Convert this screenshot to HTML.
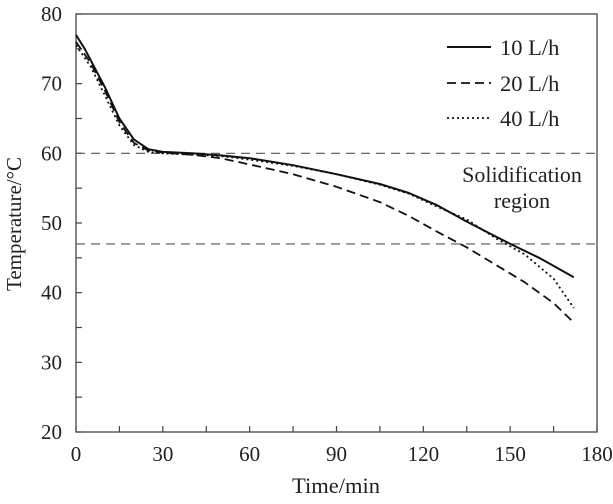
<!DOCTYPE html>
<html><head><meta charset="utf-8"><style>
html,body{margin:0;padding:0;background:#fff;}
svg text{font-family:"Liberation Serif",serif;fill:#222;}
</style></head><body>
<svg id="chart" width="613" height="499" viewBox="0 0 613 499" xmlns="http://www.w3.org/2000/svg">
<g id="layer"></g>
</svg>
<script>
const xTicks=[0,30,60,90,120,150,180];
const yTicks=[20,30,40,50,60,70,80];
const series1Time=[0,3,10,15,20,25,30,40,50,60,75,90,105,115,125,135,143,150,160,172];
const series1Temp=[77,75,69.5,65,62,60.6,60.2,60,59.7,59.3,58.3,57,55.6,54.3,52.5,50.2,48.5,47,45,42.2];
const series2Time=[0,5,10,15,20,25,30,40,50,60,75,90,105,115,125,135,145,155,165,172];
const series2Temp=[76,73,69,64.5,61.5,60.4,60.1,59.8,59.3,58.4,57,55.2,53,51,48.7,46.5,44,41.5,38.5,35.7];
const series3Time=[0,5,10,15,20,25,30,40,50,60,75,90,105,115,125,135,145,155,165,172];
const series3Temp=[75.5,72.5,68.3,64,61.2,60.2,60,59.8,59.6,59.1,58.2,57,55.5,54.2,52.3,50.5,47.8,45.5,42,37.8];
const seriesNames=["10 L/h","20 L/h","40 L/h"];
const refLines=[60,47];

const X0=76,X1=597,Y0=432,Y1=14;
const sx=v=>X0+(v-0)/180*(X1-X0);
const sy=v=>Y0-(v-20)/60*(Y0-Y1);
const NS="http://www.w3.org/2000/svg";
const g=document.getElementById('layer');
function mk(tag,attrs,parent){const e=document.createElementNS(NS,tag);for(const k in attrs)e.setAttribute(k,attrs[k]);(parent||g).appendChild(e);return e;}

let frame=mk('rect',{x:X0,y:Y1,width:X1-X0,height:Y0-Y1,fill:'none',stroke:'#444','stroke-width':1.3});



for(let v=0;v<=180;v+=15){
  const t=mk('line',{x1:sx(v),x2:sx(v),y1:Y0,y2:Y0-6,stroke:'#444','stroke-width':1.2});
  
  
}
xTicks.forEach(v=>{
  const t=mk('text',{x:sx(v),y:461,'text-anchor':'middle','font-size':21});
  t.textContent=v;
  
  
});
for(let v=20;v<=80;v+=5){
  const t=mk('line',{x1:X0,x2:X0+6,y1:sy(v),y2:sy(v),stroke:'#444','stroke-width':1.2});
  
  
}
yTicks.forEach(v=>{
  const t=mk('text',{x:62,y:sy(v)+7,'text-anchor':'end','font-size':21});
  t.textContent=v;
  
  
});
refLines.forEach(v=>{
  const l=mk('line',{x1:X0,x2:X1,y1:sy(v),y2:sy(v),stroke:'#555','stroke-width':1.1,'stroke-dasharray':'9,6'});
  
  
});

const styles=[{dash:'',w:2},{dash:'9,5',w:1.8},{dash:'2,3',w:1.8}];
const data=[[series1Time,series1Temp],[series2Time,series2Temp],[series3Time,series3Temp]];
data.forEach((d,i)=>{
  const pts=d[0].map((t,j)=>sx(t).toFixed(1)+','+sy(d[1][j]).toFixed(1)).join(' ');
  const p=mk('polyline',{points:pts,fill:'none',stroke:'#111','stroke-width':styles[i].w,'stroke-dasharray':styles[i].dash,'stroke-linejoin':'round'});
  
  
  const ly=[47,83,118][i];
  const ll=mk('line',{x1:447,x2:491,y1:ly,y2:ly,stroke:'#111','stroke-width':styles[i].w,'stroke-dasharray':styles[i].dash});
  
  
  const lt=mk('text',{x:500,y:ly+8,'font-size':22.5});
  lt.textContent=seriesNames[i];
  
  
});

let a=mk('text',{x:522,y:182,'text-anchor':'middle','font-size':22});
a.textContent='Solidification';


a=mk('text',{x:522,y:208,'text-anchor':'middle','font-size':22});
a.textContent='region';



let xt=mk('text',{x:336,y:493,'text-anchor':'middle','font-size':22.5});
xt.textContent='Time/min';


let yt=mk('text',{x:0,y:0,'text-anchor':'middle','font-size':21,transform:'translate(21,224) rotate(-90)'});
yt.textContent='Temperature/°C';


</script>
</body></html>
